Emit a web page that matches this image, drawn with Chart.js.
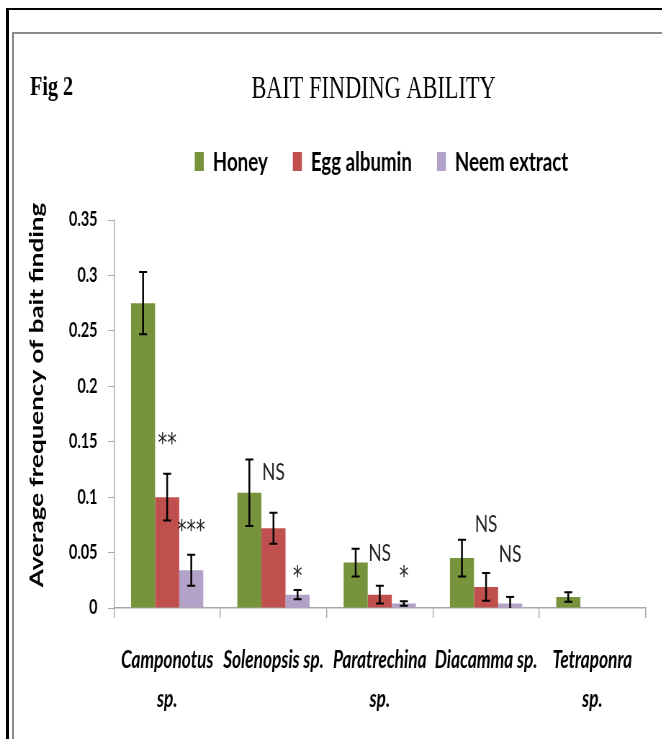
<!DOCTYPE html>
<html>
<head>
<meta charset="utf-8">
<title>Bait finding ability</title>
<script src="https://cdn.jsdelivr.net/npm/chart.js@4.4.1/dist/chart.umd.min.js"></script>
<style>
  html, body { margin: 0; padding: 0; background: #fff; overflow: hidden; }
  #marco { position: absolute; left: 6px; top: 8px; width: 800px; height: 900px; border-left: 3px solid #000; border-top: 2px solid #000; }
  #moldura { position: absolute; left: 12px; top: 32px; width: 800px; height: 900px; border-left: 2px solid #8c8c8c; border-top: 2px solid #8c8c8c; }
  #grafico { position: absolute; left: 0; top: 0; transform: scaleX(0.72); transform-origin: 0 0; }
</style>
</head>
<body>
<div id="marco"></div>
<div id="moldura"></div>
<canvas id="grafico" width="920" height="739"></canvas>
<script>
// data
const categories = [['Camponotus', 'sp.'], 'Solenopsis sp.', ['Paratrechina', 'sp.'], 'Diacamma sp.', ['Tetraponra', 'sp.']]
const honey = [0.275, 0.104, 0.041, 0.045, 0.010]
const eggAlbumin = [0.100, 0.072, 0.012, 0.019, 0]
const neemExtract = [0.034, 0.012, 0.004, 0.004, 0]
const honeyErr = [0.028, 0.030, 0.0125, 0.0165, 0.0043]
const eggErr = [0.021, 0.014, 0.008, 0.0125, 0]
const neemErr = [0.014, 0.0042, 0.002, 0.006, 0]
const eggSig = ['**', 'NS', 'NS', 'NS', '']
const eggSigY = [0.153, 0.123, 0.050, 0.076, 0]
const neemSig = ['***', '*', '*', 'NS', '']
const neemSigY = [0.074, 0.033, 0.033, 0.049, 0]
const yMax = 0.35
const yStep = 0.05

const ESCALA = 0.72 // the picture is squeezed sideways
const sx = v => v / ESCALA

const errorBars = {
  id: 'errorBars',
  afterDatasetsDraw(chart) {
    const ctx = chart.ctx
    const y = chart.scales.y
    chart.data.datasets.forEach((ds, d) => {
      const meta = chart.getDatasetMeta(d)
      meta.data.forEach((bar, i) => {
        const err = ds.errors[i]
        if (!err) return
        const v = ds.data[i]
        const low = Math.max(0, v - err)
        const top = y.getPixelForValue(v + err)
        const bottom = y.getPixelForValue(low)
        const w = sx(4)
        ctx.save()
        ctx.strokeStyle = '#000'
        ctx.lineWidth = sx(1.8)
        ctx.beginPath()
        ctx.moveTo(bar.x, top)
        ctx.lineTo(bar.x, bottom)
        ctx.stroke()
        ctx.lineWidth = 2
        ctx.beginPath()
        ctx.moveTo(bar.x - w, top)
        ctx.lineTo(bar.x + w, top)
        if (low > 0) {
          ctx.moveTo(bar.x - w, bottom)
          ctx.lineTo(bar.x + w, bottom)
        }
        ctx.stroke()
        // significance marks over the bars
        if (ds.sig && ds.sig[i]) {
          const t = ds.sig[i]
          ctx.font = t.includes('*') ? '26px "DejaVu Sans"' : '24px Lato'
          ctx.fillStyle = '#222'
          ctx.textAlign = 'center'
          ctx.textBaseline = 'alphabetic'
          const m = ctx.measureText(t)
          const yc = y.getPixelForValue(ds.sigY[i])
          ctx.fillText(t, bar.x, yc + (m.actualBoundingBoxAscent - m.actualBoundingBoxDescent) / 2)
        }
        ctx.restore()
      })
    })
  }
}

const textos = {
  id: 'textos',
  afterDraw(chart) {
    const ctx = chart.ctx
    ctx.save()
    ctx.fillStyle = '#000'
    ctx.textBaseline = 'alphabetic'

    ctx.font = 'bold 28px "Liberation Serif"'
    ctx.textAlign = 'left'
    ctx.fillText('Fig 2', sx(30), 95)

    ctx.font = '31px "Liberation Serif"'
    ctx.textAlign = 'center'
    ctx.fillText('BAIT FINDING ABILITY', sx(373.5), 98)

    // legend
    ctx.font = 'bold 26px Lato'
    ctx.textAlign = 'left'
    const caixa = sx(9), folga = sx(9), entre = sx(25)
    const itens = chart.data.datasets.map(ds => ({ ds, w: ctx.measureText(ds.label).width }))
    const total = itens.reduce((s, it) => s + caixa + folga + it.w, 0) + entre * (itens.length - 1)
    let x = sx(381.5) - total / 2
    itens.forEach(it => {
      ctx.fillStyle = it.ds.backgroundColor
      ctx.fillRect(x, 152, caixa, 19)
      ctx.fillStyle = '#000'
      ctx.fillText(it.ds.label, x + caixa + folga, 171)
      x += caixa + folga + it.w + entre
    })

    // y axis title
    ctx.translate(sx(43), 395)
    ctx.rotate(-Math.PI / 2)
    ctx.font = 'bold 26px Lato'
    ctx.textAlign = 'center'
    ctx.fillText('Average frequency of bait finding', 0, 0)
    ctx.restore()
  }
}

const chart = new Chart(document.getElementById('grafico'), {
  type: 'bar',
  data: {
    labels: categories,
    datasets: [
      { label: 'Honey', data: honey, errors: honeyErr, backgroundColor: '#77933c' },
      { label: 'Egg albumin', data: eggAlbumin, errors: eggErr, sig: eggSig, sigY: eggSigY, backgroundColor: '#c0504d' },
      { label: 'Neem extract', data: neemExtract, errors: neemErr, sig: neemSig, sigY: neemSigY, backgroundColor: '#b3a2c7' }
    ]
  },
  options: {
    responsive: false,
    devicePixelRatio: 1,
    animation: false,
    categoryPercentage: 0.68,
    barPercentage: 1,
    layout: { padding: { top: 220, left: 0, right: 920 - sx(645.5), bottom: 0 } },
    plugins: { legend: { display: false }, tooltip: { enabled: false } },
    scales: {
      x: {
        grid: { offset: true, drawOnChartArea: false, tickLength: 10, color: '#a6a6a6', lineWidth: sx(1) },
        border: { color: '#a6a6a6', width: 1.5 },
        ticks: {
          color: '#000',
          font: { family: 'Lato', size: 24, style: 'italic', weight: 'bold', lineHeight: 1.65 },
          padding: 22, maxRotation: 0, minRotation: 0, autoSkip: false
        },
        afterFit: s => { s.height = 131 }
      },
      y: {
        min: 0,
        max: yMax,
        ticks: {
          stepSize: yStep, padding: 15, color: '#000',
          font: { family: 'Lato', size: 20, weight: 'bold' },
          callback: v => +v.toFixed(2)
        },
        grid: { drawOnChartArea: false, tickLength: 8, color: '#a6a6a6', lineWidth: 1 },
        border: { color: '#a6a6a6', width: sx(1) },
        afterFit: s => { s.width = sx(114) }
      }
    }
  },
  plugins: [errorBars, textos]
})
</script>
</body>
</html>
